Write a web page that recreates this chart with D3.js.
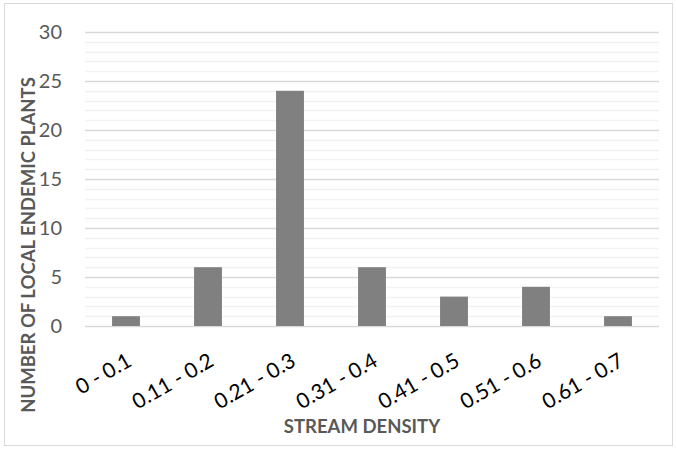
<!DOCTYPE html>
<html><head><meta charset="utf-8">
<script src="https://cdn.jsdelivr.net/npm/d3@7"></script>
<style>body{margin:0;background:#fff}svg{display:block}</style>
</head><body><svg id="c" width="677" height="449"></svg>
<script>
const categories = ["0 - 0.1","0.11 - 0.2","0.21 - 0.3","0.31 - 0.4","0.41 - 0.5","0.51 - 0.6","0.61 - 0.7"];
const values = [1,6,24,6,3,4,1];
const yTicks = [0,5,10,15,20,25,30];
const xTitle = "STREAM DENSITY";
const yTitle = "NUMBER OF LOCAL ENDEMIC PLANTS";

const svg = d3.select("#c");
const font = "Lato, 'Open Sans', sans-serif";
svg.append("rect").attr("x",4.5).attr("y",3.5).attr("width",668).attr("height",442)
  .attr("fill","#fff").attr("stroke","#d9d9d9");

const L=85, R=659, T=32, B=326;
const x = d3.scaleBand().domain(categories).range([L,R]).paddingInner(0.66).paddingOuter(0.33);
const y = d3.scaleLinear().domain([0,30]).range([B,T]);

const g = svg.append("g");
g.selectAll("line.minor").data(d3.range(0,31).filter(v=>v%5!==0)).join("line")
  .attr("x1",L).attr("x2",R).attr("y1",d=>Math.round(y(d))+0.5).attr("y2",d=>Math.round(y(d))+0.5)
  .attr("stroke","#f2f2f2").attr("stroke-width",1.3);
g.selectAll("line.major").data(yTicks).join("line")
  .attr("x1",L).attr("x2",R).attr("y1",d=>Math.round(y(d))+0.5).attr("y2",d=>Math.round(y(d))+0.5)
  .attr("stroke","#d9d9d9").attr("stroke-width",1.3);

svg.append("g").selectAll("rect").data(values).join("rect")
  .attr("x",(d,i)=>x(categories[i])).attr("width",x.bandwidth())
  .attr("y",d=>y(d)).attr("height",d=>B-y(d)).attr("fill","#808080");

const yAxis = svg.append("g").attr("transform",`translate(${L},0)`)
  .call(d3.axisLeft(y).tickValues(yTicks).tickSize(0).tickPadding(23));
yAxis.select(".domain").remove();
yAxis.selectAll("text").attr("font-family",font).attr("font-size",20).attr("fill","#595959");

const xAxis = svg.append("g").attr("transform",`translate(0,${B})`)
  .call(d3.axisBottom(x).tickSize(0).tickPadding(0));
xAxis.select(".domain").remove();
xAxis.selectAll("text").attr("font-family",font).attr("font-size",21).attr("fill","#000")
  .attr("text-anchor","end").attr("dy","0").attr("y",0)
  .attr("transform","translate(7,39) rotate(-30)");

svg.append("text").attr("x",362).attr("y",433).attr("text-anchor","middle")
  .attr("font-family",font).attr("font-weight","bold").attr("font-size",18.5).attr("fill","#595959").text(xTitle);
svg.append("text").attr("transform","translate(35,245) rotate(-90)").attr("text-anchor","middle")
  .attr("font-family",font).attr("font-weight","bold").attr("font-size",18.5).attr("fill","#595959").text(yTitle);
</script></body></html>
